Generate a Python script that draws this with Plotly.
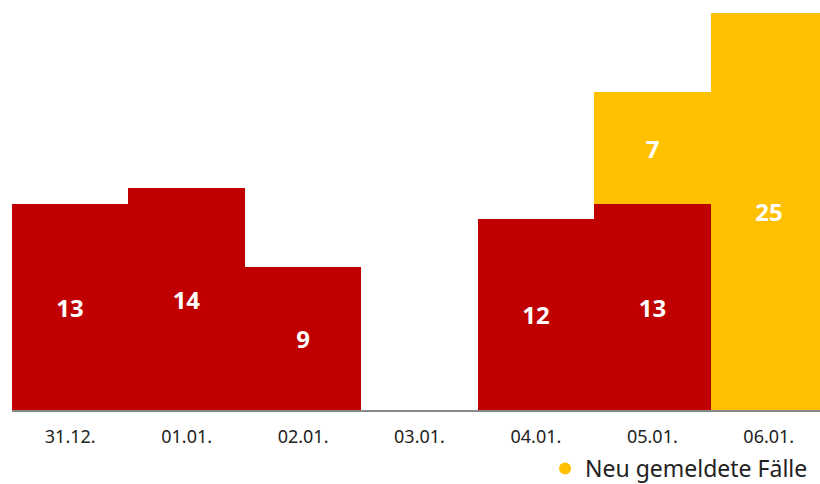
import plotly.graph_objects as go

categories = ["31.12.", "01.01.", "02.01.", "03.01.", "04.01.", "05.01.", "06.01."]
earlier_cases = [13, 14, 9, 0, 12, 13, 0]
new_cases = [0, 0, 0, 0, 0, 7, 25]
legend_label = "Neu gemeldete Fälle"

RED = "#C00000"
YELLOW = "#FFC000"
FONT = "Noto Sans"

def labels(vals):
    return [str(v) if v else "" for v in vals]

fig = go.Figure()
fig.add_trace(go.Bar(
    x=categories, y=earlier_cases, marker=dict(color=RED, line=dict(width=0)),
    text=labels(earlier_cases), textposition="inside", insidetextanchor="middle",
    textfont=dict(family=FONT, size=24, color="white", weight="bold"),
    showlegend=False, hoverinfo="skip",
))
fig.add_trace(go.Bar(
    x=categories, y=new_cases, marker=dict(color=YELLOW, line=dict(width=0)),
    text=labels(new_cases), textposition="inside", insidetextanchor="middle",
    textfont=dict(family=FONT, size=24, color="white", weight="bold"),
    showlegend=False, hoverinfo="skip",
))
fig.add_trace(go.Scatter(
    x=[None], y=[None], mode="markers", name=legend_label,
    marker=dict(color=YELLOW, size=17, symbol="circle"),
))

fig.update_layout(
    width=820, height=484,
    barmode="stack", bargap=0,
    paper_bgcolor="white", plot_bgcolor="white",
    margin=dict(l=12, r=0, t=13, b=74),
    font=dict(family=FONT, color="#222222"),
    showlegend=True,
    legend=dict(orientation="h", xref="container", x=0.9915, xanchor="right",
                yref="container", y=0.032, yanchor="middle",
                font=dict(size=23, color="#222222"), itemsizing="constant",
                bgcolor="rgba(0,0,0,0)", borderwidth=0),
    uniformtext=dict(minsize=10, mode="show"),
)
fig.update_xaxes(
    range=[-0.5, 6.44], showgrid=False, showline=True, linecolor="#888888", linewidth=2,
    ticks="", tickfont=dict(size=18, color="#222222"), zeroline=False,
    ticklabelstandoff=9,
)
fig.update_yaxes(range=[0, 25], visible=False, showgrid=False, zeroline=False)

fig.write_html("out.html", config={"displayModeBar": False},
               post_script="document.body.style.margin='0';document.body.style.overflow='hidden';")
